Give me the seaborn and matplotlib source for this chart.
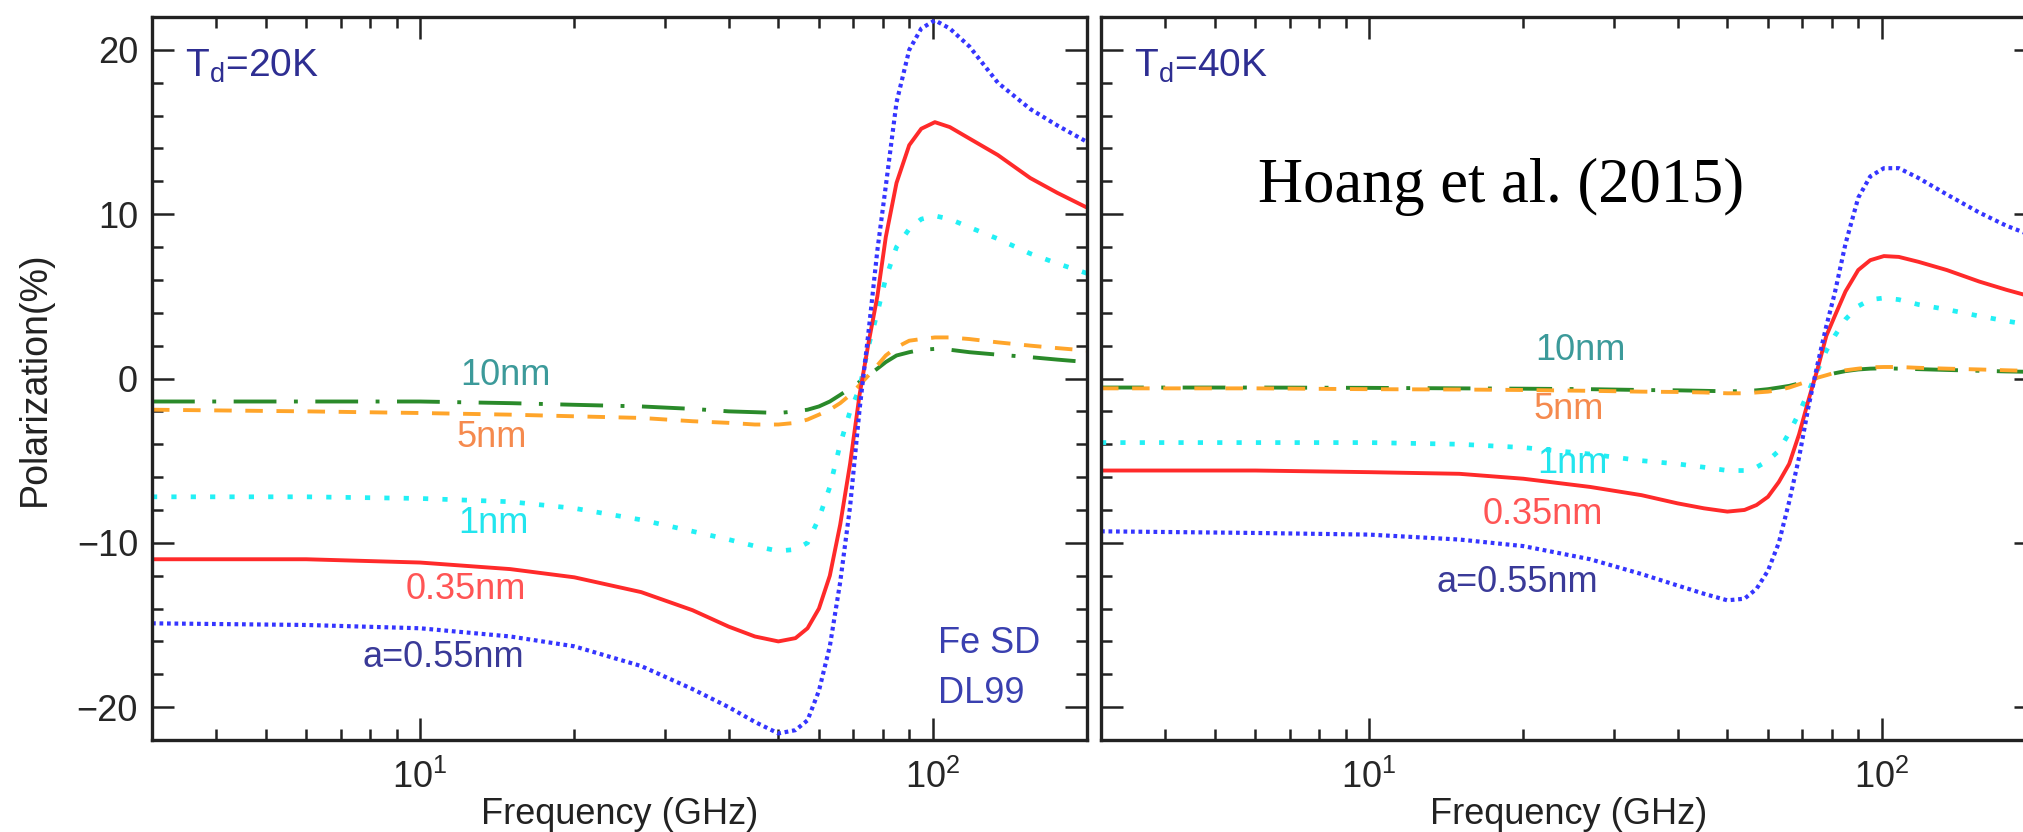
import seaborn as sns
import matplotlib.pyplot as plt
from matplotlib.ticker import LogLocator, MultipleLocator, NullFormatter

# frequency grid (GHz), shared by both panels
freq = [3, 6, 10, 15, 20, 27, 34, 40, 45, 50, 54, 57, 60, 63, 66, 69, 72, 75,
        78, 81, 85, 90, 95, 101, 108, 118, 134, 155, 175, 200]

# T_d = 20K, polarization (%)
p20_a055 = [-14.9, -15.0, -15.2, -15.7, -16.3, -17.5, -18.9, -20.0, -20.9, -21.6, -21.4, -20.8, -19.0, -16.3,
            -12.4, -7.8, -1.9, 2.9, 7.8, 11.7, 16.8, 20.0, 21.3, 21.8, 21.3, 20.2, 18.0, 16.4, 15.4, 14.4]
p20_a035 = [-11.0, -11.0, -11.2, -11.6, -12.1, -13.0, -14.1, -15.1, -15.7, -16.0, -15.8, -15.2, -14.0, -12.0,
            -8.9, -5.2, -1.0, 2.2, 5.0, 8.6, 11.9, 14.2, 15.2, 15.6, 15.3, 14.6, 13.6, 12.2, 11.3, 10.4]
p20_a1 = [-7.2, -7.2, -7.3, -7.5, -7.9, -8.6, -9.3, -9.8, -10.2, -10.5, -10.4, -10.0, -8.5, -6.6,
          -4.0, -2.0, -0.6, 2.0, 4.0, 6.1, 8.0, 9.1, 9.7, 9.9, 9.7, 9.2, 8.5, 7.6, 7.0, 6.4]
p20_a5 = [-1.9, -2.0, -2.1, -2.2, -2.3, -2.4, -2.6, -2.7, -2.8, -2.8, -2.7, -2.5, -2.2, -1.9,
          -1.5, -1.0, -0.4, 0.2, 0.8, 1.4, 1.9, 2.3, 2.4, 2.5, 2.5, 2.4, 2.2, 2.0, 1.85, 1.7]
p20_a10 = [-1.4, -1.4, -1.4, -1.5, -1.6, -1.7, -1.85, -2.0, -2.05, -2.1, -2.0, -1.9, -1.7, -1.4,
           -1.0, -0.6, -0.2, 0.2, 0.6, 1.0, 1.4, 1.6, 1.75, 1.8, 1.75, 1.6, 1.45, 1.3, 1.15, 1.0]

# T_d = 40K, polarization (%)
p40_a055 = [-9.3, -9.4, -9.5, -9.8, -10.2, -11.0, -11.9, -12.6, -13.1, -13.5, -13.4, -12.8, -11.7, -10.0,
            -7.5, -4.8, -1.7, 0.9, 3.2, 5.2, 8.2, 11.0, 12.3, 12.8, 12.8, 12.2, 11.2, 10.1, 9.3, 8.6]
p40_a035 = [-5.6, -5.6, -5.7, -5.8, -6.1, -6.6, -7.1, -7.6, -7.9, -8.1, -8.0, -7.7, -7.2, -6.3,
            -5.2, -3.4, -1.3, 0.6, 2.6, 3.8, 5.3, 6.6, 7.2, 7.45, 7.4, 7.1, 6.6, 5.9, 5.4, 4.9]
p40_a1 = [-3.9, -3.9, -3.9, -4.0, -4.2, -4.6, -5.0, -5.2, -5.4, -5.6, -5.6, -5.4, -5.0, -4.4,
          -3.3, -2.1, -0.8, 0.5, 1.7, 2.6, 3.6, 4.4, 4.8, 4.9, 4.8, 4.5, 4.2, 3.8, 3.5, 3.2]
p40_a5 = [-0.6, -0.6, -0.65, -0.67, -0.7, -0.75, -0.8, -0.82, -0.85, -0.9, -0.9, -0.85, -0.8, -0.7,
          -0.55, -0.35, -0.15, 0.05, 0.2, 0.35, 0.5, 0.6, 0.68, 0.7, 0.7, 0.65, 0.6, 0.55, 0.5, 0.45]
p40_a10 = [-0.55, -0.55, -0.57, -0.6, -0.62, -0.65, -0.7, -0.72, -0.75, -0.78, -0.77, -0.72, -0.65, -0.55,
           -0.45, -0.3, -0.12, 0.05, 0.2, 0.32, 0.45, 0.55, 0.6, 0.62, 0.6, 0.57, 0.52, 0.47, 0.43, 0.4]

size_labels = ['a=0.55nm', '0.35nm', '1nm', '5nm', '10nm']
line_colors = ['#3535ff', '#ff2a2a', '#22f0f5', '#ffa52a', '#2a8a2a']
label_colors = ['#3a3a98', '#ff5555', '#22e5ee', '#f58a4e', '#3c9a9a']
line_styles = [(0, (0.9, 0.9)), '-', (0, (1.1, 3.0)), (0, (4.5, 3.5)), (0, (11, 4.5, 1.0, 4.5))]
line_widths = [3.0, 2.8, 3.4, 2.8, 2.8]

sns.set_style('ticks')
plt.rcParams['font.family'] = ['Liberation Sans', 'DejaVu Sans']
plt.rcParams['mathtext.fontset'] = 'custom'
plt.rcParams['mathtext.rm'] = 'Liberation Sans'
plt.rcParams['mathtext.it'] = 'Liberation Sans:italic'
plt.rcParams['axes.linewidth'] = 2.4
plt.rcParams['axes.edgecolor'] = '#222222'

fig = plt.figure(figsize=(20.23, 8.32), dpi=100)
ax1 = fig.add_axes([152 / 2023, 92 / 832, 935 / 2023, 723 / 832])
ax2 = fig.add_axes([1101 / 2023, 92 / 832, 935 / 2023, 723 / 832])

panels = [
    (ax1, [p20_a055, p20_a035, p20_a1, p20_a5, p20_a10], 'T$_{\\mathrm{d}}$=20K'),
    (ax2, [p40_a055, p40_a035, p40_a1, p40_a5, p40_a10], 'T$_{\\mathrm{d}}$=40K'),
]

for ax, series, tlabel in panels:
    # 10nm first so the thin dotted lines stay on top
    for i in [4, 3, 2, 1, 0]:
        sns.lineplot(x=freq, y=series[i], ax=ax, color=line_colors[i],
                     linestyle=line_styles[i], linewidth=line_widths[i])
    ax.set_xscale('log')
    ax.set_xlim(3, 200)
    ax.set_ylim(-22, 22)
    ax.yaxis.set_major_locator(MultipleLocator(10))
    ax.yaxis.set_minor_locator(MultipleLocator(2))
    ax.xaxis.set_major_locator(LogLocator(base=10))
    ax.xaxis.set_minor_locator(LogLocator(base=10, subs=range(2, 10)))
    ax.xaxis.set_minor_formatter(NullFormatter())
    ax.tick_params(which='both', direction='in', top=True, right=True,
                   color='#222222', width=1.8, labelsize=26)
    ax.tick_params(which='major', length=16)
    ax.tick_params(which='minor', length=8)
    ax.tick_params(axis='x', pad=14)
    ax.tick_params(axis='y', pad=10)
    ax.set_xlabel('Frequency (GHz)', fontsize=26, labelpad=1, color='#222222')
    ax.text(0.035, 0.917, tlabel, transform=ax.transAxes, fontsize=28,
            color='#2e2e92', va='baseline', ha='left')

ax1.set_ylabel('Polarization(%)', fontsize=27, labelpad=17, color='#222222')
ax2.tick_params(labelleft=False)
ax2.set_ylabel('')

# curve labels (x in GHz, y in %)
lab20_x = [11.1, 12.3, 13.9, 13.8, 14.7]
lab20_y = [-17.0, -12.85, -8.8, -3.6, 0.2]
lab40_x = [19.5, 21.8, 24.9, 24.5, 25.8]
lab40_y = [-12.4, -8.3, -5.15, -1.9, 1.7]
for i in range(5):
    ax1.text(lab20_x[i], lab20_y[i], size_labels[i], color=label_colors[i],
             fontsize=26, ha='center', va='center')
    ax2.text(lab40_x[i], lab40_y[i], size_labels[i], color=label_colors[i],
             fontsize=26, ha='center', va='center')

ax1.text(0.841, 0.120, 'Fe SD', transform=ax1.transAxes, fontsize=26,
         color='#3a40b0', ha='left', va='baseline')
ax1.text(0.841, 0.051, 'DL99', transform=ax1.transAxes, fontsize=26,
         color='#3a40b0', ha='left', va='baseline')

fig.text(1258 / 2023, (832 - 202) / 832, 'Hoang et al. (2015)', fontsize=45,
         family='Liberation Serif', color='black', ha='left', va='baseline')

fig.savefig('out.png', dpi=100)
